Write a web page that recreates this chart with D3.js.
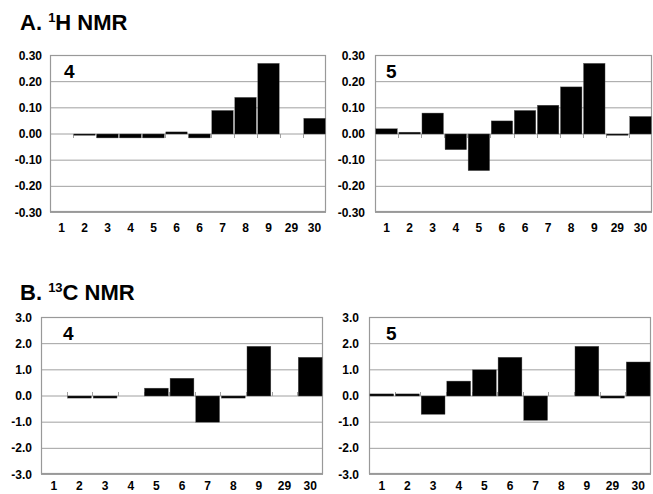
<!DOCTYPE html>
<html><head><meta charset="utf-8">
<script src="https://cdn.jsdelivr.net/npm/d3@7"></script>
<style>body{margin:0;background:#fff;} svg{display:block;}</style>
</head><body>
<svg id="c" width="653" height="494"></svg>
<script>
// Data
const catsH = ["1","2","3","4","5","6","6","7","8","9","29","30"];
const catsC = ["1","2","3","4","5","6","7","8","9","29","30"];
const h4 = [0, -0.005, -0.015, -0.015, -0.015, 0.008, -0.015, 0.09, 0.14, 0.27, 0, 0.06];
const h5 = [0.02, 0.007, 0.08, -0.06, -0.14, 0.05, 0.09, 0.11, 0.18, 0.27, -0.005, 0.067];
const c4 = [0, -0.08, -0.08, 0, 0.3, 0.68, -1.0, -0.08, 1.9, 0, 1.48];
const c5 = [0.08, 0.08, -0.7, 0.57, 1.0, 1.48, -0.93, 0, 1.9, -0.08, 1.3];
const hTicks = [-0.3, -0.2, -0.1, 0, 0.1, 0.2, 0.3];
const cTicks = [-3, -2, -1, 0, 1, 2, 3];

const svg = d3.select("#c");
const FONT = "'Liberation Sans', Arial, sans-serif";
const loc = d3.formatLocale({decimal: ".", thousands: ",", grouping: [3], currency: ["", ""], minus: "-"});

function panel(opt){
  const g = svg.append("g");
  const x = d3.scaleBand().domain(d3.range(opt.cats.length)).range([opt.x0, opt.x1]).paddingInner(0.07).paddingOuter(0.035);
  const y = d3.scaleLinear().domain(opt.domain).range([opt.y1, opt.y0]);
  // gridlines
  g.selectAll("line.grid").data(opt.ticks).join("line")
    .attr("x1", opt.x0).attr("x2", opt.x1)
    .attr("y1", d => y(d) + 0.5).attr("y2", d => y(d) + 0.5)
    .attr("stroke", "#a0a0a0").attr("stroke-width", 1);
  // frame
  g.append("rect").attr("x", opt.x0 + 0.5).attr("y", opt.y0 + 0.5)
    .attr("width", opt.x1 - opt.x0 - 1).attr("height", opt.y1 - opt.y0 - 1)
    .attr("fill", "none").attr("stroke", "#999").attr("stroke-width", 1.2);
  // category boundary ticks on zero line
  const step = (opt.x1 - opt.x0) / opt.cats.length;
  const bounds = d3.range(1, opt.cats.length).map(i => opt.x0 + i * step);
  g.selectAll("line.tk").data(bounds).join("line")
    .attr("x1", d => Math.round(d) + 0.5).attr("x2", d => Math.round(d) + 0.5)
    .attr("y1", y(0) + 0.5).attr("y2", y(0) + 0.5 + opt.tickDir * 4)
    .attr("stroke", "#a0a0a0").attr("stroke-width", 1);
  // bars
  g.selectAll("rect.bar").data(opt.vals).join("rect")
    .attr("x", (d, i) => x(i)).attr("width", x.bandwidth())
    .attr("y", d => Math.min(y(d), y(0)) + 0.5)
    .attr("height", d => Math.abs(y(d) - y(0)))
    .attr("fill", "#000").attr("stroke", "#555").attr("stroke-width", 0.4)
    .attr("display", d => d === 0 ? "none" : null);
  // y labels
  g.selectAll("text.yl").data(opt.ticks).join("text")
    .attr("x", opt.x0 - opt.lgap).attr("y", d => y(d) + 4.5)
    .attr("text-anchor", "end").attr("font-family", FONT).attr("font-weight", "bold")
    .attr("font-size", 12).text(d => loc.format(opt.fmt)(d));
  // x labels
  g.selectAll("text.xl").data(opt.cats).join("text")
    .attr("x", (d, i) => x(i) + x.bandwidth() / 2).attr("y", opt.xlY)
    .attr("text-anchor", "middle").attr("font-family", FONT).attr("font-weight", "bold")
    .attr("font-size", 12).text(d => d);
  // panel label
  g.append("text").attr("x", opt.lx).attr("y", opt.y0 + 23)
    .attr("font-family", FONT).attr("font-weight", "bold").attr("font-size", 19).text(opt.label);
}

panel({cats: catsH, vals: h4, domain: [-0.3, 0.3], ticks: hTicks, fmt: ".2f",
  x0: 50, x1: 326, y0: 55, y1: 212, xlY: 232, lgap: 8, label: "4", lx: 64, tickDir: 1});
panel({cats: catsH, vals: h5, domain: [-0.3, 0.3], ticks: hTicks, fmt: ".2f",
  x0: 375, x1: 652, y0: 55, y1: 212, xlY: 232, lgap: 10, label: "5", lx: 386, tickDir: 1});
panel({cats: catsC, vals: c4, domain: [-3, 3], ticks: cTicks, fmt: ".1f",
  x0: 41, x1: 323, y0: 317, y1: 474, xlY: 490, lgap: 9, label: "4", lx: 63, tickDir: -1});
panel({cats: catsC, vals: c5, domain: [-3, 3], ticks: cTicks, fmt: ".1f",
  x0: 369, x1: 651, y0: 317, y1: 474, xlY: 490, lgap: 10, label: "5", lx: 386, tickDir: -1});

// titles
function title(x, y, pre, sup, post){
  const t = svg.append("text").attr("x", x).attr("y", y)
    .attr("font-family", FONT).attr("font-weight", "bold").attr("font-size", 22);
  t.append("tspan").text(pre);
  t.append("tspan").attr("font-size", 13).attr("dy", -8).text(sup);
  t.append("tspan").attr("dy", 8).text(post);
}
title(20, 30, "A. ", "1", "H NMR");
title(20, 300, "B. ", "13", "C NMR");
</script>
</body></html>
